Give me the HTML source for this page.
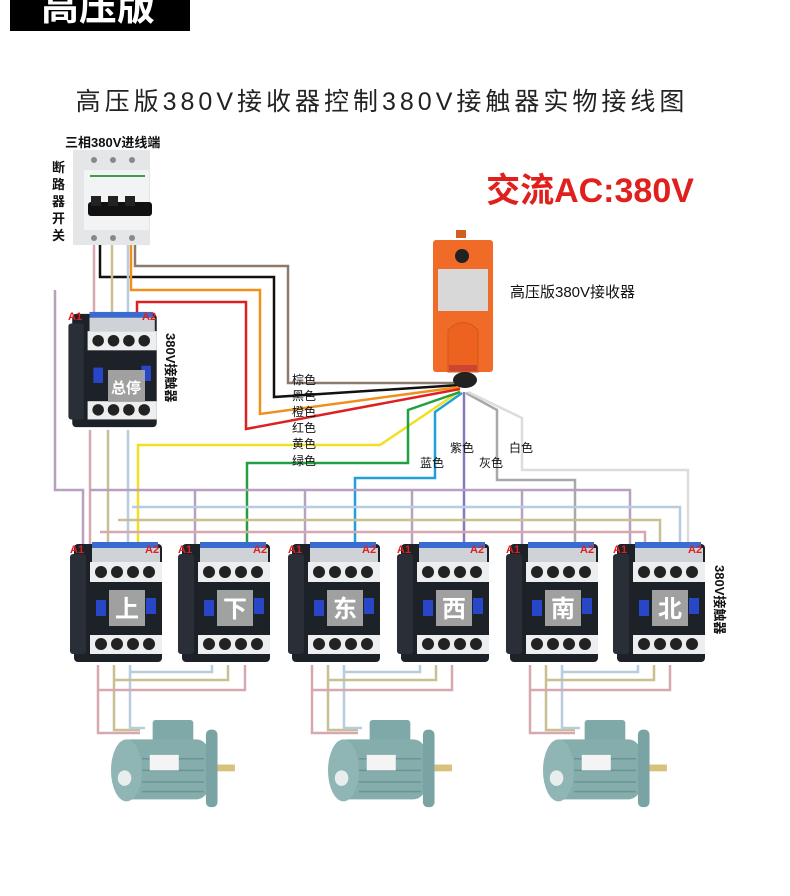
<!DOCTYPE html>
<html><head><meta charset="utf-8"><style>
html,body{margin:0;padding:0;background:#fff}
svg{display:block}
text{font-family:"Liberation Sans","Noto Sans CJK SC",sans-serif}
</style></head><body>
<svg width="790" height="896" viewBox="0 0 790 896" xmlns="http://www.w3.org/2000/svg">
<defs>
<symbol id="ct" viewBox="0 0 95 125" width="95" height="125">
  <rect x="4" y="4" width="88" height="118" rx="4" fill="#1d2128"/>
  <rect x="0" y="14" width="16" height="100" rx="3" fill="#2a2e36"/>
  <rect x="22" y="2" width="66" height="6" fill="#3a6bd0"/>
  <rect x="22" y="8" width="68" height="14" fill="#cfd3d8"/>
  <rect x="20" y="22" width="72" height="20" fill="#eceef0"/>
  <g fill="#222"><circle cx="31" cy="32" r="6"/><circle cx="47" cy="32" r="6"/><circle cx="63" cy="32" r="6"/><circle cx="79" cy="32" r="6"/></g>
  <rect x="26" y="60" width="10" height="16" fill="#2747c8"/>
  <rect x="76" y="58" width="10" height="16" fill="#2747c8"/>
  <rect x="20" y="95" width="72" height="19" fill="#eceef0"/>
  <g fill="#222"><circle cx="31" cy="104" r="6"/><circle cx="47" cy="104" r="6"/><circle cx="63" cy="104" r="6"/><circle cx="79" cy="104" r="6"/></g>
</symbol>
<symbol id="mt" viewBox="0 0 130 95" width="130" height="95">
  <rect x="45" y="0" width="42" height="22" rx="3" fill="#7fa9a8"/>
  <rect x="10" y="20" width="92" height="62" rx="12" fill="#84adac"/>
  <ellipse cx="18" cy="52" rx="16" ry="32" fill="#8fb6b5"/>
  <ellipse cx="16" cy="60" rx="7" ry="8" fill="#e8eeee"/>
  <g stroke="#6a9594" stroke-width="1.5"><line x1="34" y1="40" x2="98" y2="40"/><line x1="34" y1="52" x2="98" y2="52"/><line x1="34" y1="64" x2="98" y2="64"/><line x1="34" y1="74" x2="98" y2="74"/></g>
  <rect x="42" y="36" width="30" height="16" fill="#f4f4f4"/>
  <rect x="100" y="10" width="12" height="80" rx="5" fill="#7aa4a3"/>
  <rect x="112" y="46" width="18" height="7" fill="#d6c27a"/>
</symbol>
</defs>

<rect x="10" y="0" width="180" height="31" fill="#000"/>
<text x="98" y="20" font-size="38" font-weight="bold" fill="#fff" text-anchor="middle">高压版</text>

<text x="382" y="110" font-size="25" fill="#222" text-anchor="middle" letter-spacing="4">高压版380V接收器控制380V接触器实物接线图</text>

<text x="65" y="147" font-size="13" font-weight="bold" fill="#111">三相380V进线端</text>
<g font-size="13" font-weight="bold" fill="#111"><text x="52" y="172">断</text><text x="52" y="189">路</text><text x="52" y="206">器</text><text x="52" y="223">开</text><text x="52" y="240">关</text></g>

<text x="590" y="202" font-size="34" font-weight="bold" fill="#e0201c" text-anchor="middle">交流AC:380V</text>

<g fill="none" stroke-width="2.5">
<polyline points="135,245 135,266 288,266 288,383 460,383" stroke="#8c7a6e"/>
<polyline points="100,245 100,277 274,277 274,397 460,385" stroke="#111"/>
<polyline points="131,245 131,290 260,290 260,414 460,387" stroke="#f0901c"/>
<polyline points="137,318 137,302 246,302 246,429 460,389" stroke="#e02020"/>
<polyline points="138,545 138,445 380,445 460,391" stroke="#f0e020" />
<polyline points="247,545 247,463 408,463 408,410 460,392" stroke="#20a040"/>
<polyline points="355,545 355,478 435,478 435,412 462,393" stroke="#20a0d8"/>
<polyline points="464,545 464,392" stroke="#8878c0"/>
<polyline points="575,545 575,480 497,480 497,410 466,393" stroke="#a8a8a8"/>
<polyline points="688,545 688,470 522,470 522,418 468,392" stroke="#dcdcdc"/>
<polyline points="94,245 94,320" stroke="#d8a8b0"/>
<polyline points="112,245 112,320" stroke="#c8c090"/>
<polyline points="128,245 128,320" stroke="#b8cce0"/>
<polyline points="55,290 55,490 83,490 83,545" stroke="#b8a0c0"/>
<polyline points="90,430 90,545" stroke="#d8a8b0"/>
<polyline points="108,430 108,545" stroke="#c8c090"/>
<polyline points="128,430 128,545" stroke="#b8cce0"/>
<polyline points="90,490 630,490 630,545" stroke="#b8a0c0"/>
<polyline points="195,490 195,545" stroke="#b8a0c0"/>
<polyline points="305,490 305,545" stroke="#b8a0c0"/>
<polyline points="412,490 412,545" stroke="#b8a0c0"/>
<polyline points="522,490 522,545" stroke="#b8a0c0"/>
<polyline points="132,507 680,507 680,545" stroke="#b8cce0"/>
<polyline points="118,520 660,520 660,545" stroke="#c8c090"/>
<polyline points="100,532 645,532 645,545" stroke="#d8a8b0"/>
</g>

<rect x="73" y="150" width="77" height="95" fill="#e4e6e8"/>
<rect x="84" y="170" width="65" height="60" fill="#f2f3f4"/>
<g fill="#888"><circle cx="94" cy="160" r="3"/><circle cx="113" cy="160" r="3"/><circle cx="132" cy="160" r="3"/><circle cx="94" cy="238" r="3"/><circle cx="113" cy="238" r="3"/><circle cx="132" cy="238" r="3"/></g>
<rect x="90" y="175" width="55" height="2" fill="#3aa050"/>
<rect x="88" y="202" width="64" height="14" rx="3" fill="#111"/>
<g fill="#222"><rect x="91" y="196" width="10" height="10"/><rect x="108" y="196" width="10" height="10"/><rect x="125" y="196" width="10" height="10"/></g>

<rect x="456" y="230" width="10" height="8" fill="#d06020"/>
<rect x="433" y="240" width="60" height="132" rx="3" fill="#f06a28"/>
<circle cx="462" cy="256" r="7" fill="#222"/>
<rect x="438" y="269" width="50" height="42" fill="#d8d8d8"/>
<path d="M448 372 V330 Q463 315 478 330 V372 Z" fill="#ee6220" stroke="#d05818"/>
<rect x="449" y="365" width="28" height="6" fill="#c43" />
<ellipse cx="465" cy="380" rx="12" ry="8" fill="#222"/>
<text x="510" y="297" font-size="15" fill="#111">高压版380V接收器</text>

<g font-size="12" fill="#111">
<text x="292" y="384">棕色</text><text x="292" y="400">黑色</text><text x="292" y="416">橙色</text><text x="292" y="432">红色</text><text x="292" y="448">黄色</text><text x="292" y="465">绿色</text>
<text x="450" y="452">紫色</text><text x="420" y="467">蓝色</text><text x="479" y="467">灰色</text><text x="509" y="452">白色</text>
</g>

<use href="#ct" x="68" y="310" width="92" height="120"/>
<rect x="108" y="370" width="37" height="32" fill="#a8a8a8" opacity="0.95"/>
<text x="126" y="393" font-size="15" font-weight="bold" fill="#fff" text-anchor="middle">总停</text>
<text x="68" y="320" font-size="11" font-weight="bold" fill="#e02020">A1</text>
<text x="142" y="320" font-size="11" font-weight="bold" fill="#e02020">A2</text>
<g font-size="13" font-weight="bold" fill="#111" transform="translate(166,333) rotate(90)"><text x="0" y="0">380V接触器</text></g>

<g>
<use href="#ct" x="70" y="540"/><use href="#ct" x="178" y="540"/><use href="#ct" x="288" y="540"/><use href="#ct" x="397" y="540"/><use href="#ct" x="506" y="540"/><use href="#ct" x="613" y="540"/>
</g>
<g fill="#a8a8a8" opacity="0.95">
<rect x="109" y="590" width="36" height="36"/><rect x="217" y="590" width="36" height="36"/><rect x="327" y="590" width="36" height="36"/><rect x="436" y="590" width="36" height="36"/><rect x="545" y="590" width="36" height="36"/><rect x="652" y="590" width="36" height="36"/>
</g>
<g font-size="24" font-weight="bold" fill="#fff" text-anchor="middle">
<text x="127" y="617">上</text><text x="235" y="617">下</text><text x="345" y="617">东</text><text x="454" y="617">西</text><text x="563" y="617">南</text><text x="670" y="617">北</text>
</g>
<g font-size="11" font-weight="bold" fill="#e02020">
<text x="70" y="553">A1</text><text x="145" y="553">A2</text>
<text x="178" y="553">A1</text><text x="253" y="553">A2</text>
<text x="288" y="553">A1</text><text x="362" y="553">A2</text>
<text x="397" y="553">A1</text><text x="470" y="553">A2</text>
<text x="506" y="553">A1</text><text x="580" y="553">A2</text>
<text x="613" y="553">A1</text><text x="688" y="553">A2</text>
</g>
<g font-size="13" font-weight="bold" fill="#111" transform="translate(715,565) rotate(90)"><text x="0" y="0">380V接触器</text></g>

<g fill="none" stroke-width="2.5">
<polyline points="98,665 98,733 140,733" stroke="#d8a8b0"/>
<polyline points="114,665 114,730 140,730" stroke="#c8c090"/>
<polyline points="130,665 130,728 145,728" stroke="#b8cce0"/>
<polyline points="98,690 245,690 245,665" stroke="#d8a8b0"/>
<polyline points="114,680 228,680 228,665" stroke="#c8c090"/>
<polyline points="130,672 212,672 212,665" stroke="#b8cce0"/>
<polyline points="312,665 312,733 358,733" stroke="#d8a8b0"/>
<polyline points="328,665 328,730 358,730" stroke="#c8c090"/>
<polyline points="344,665 344,728 362,728" stroke="#b8cce0"/>
<polyline points="312,690 452,690 452,665" stroke="#d8a8b0"/>
<polyline points="328,680 436,680 436,665" stroke="#c8c090"/>
<polyline points="344,672 420,672 420,665" stroke="#b8cce0"/>
<polyline points="530,665 530,733 575,733" stroke="#d8a8b0"/>
<polyline points="546,665 546,730 575,730" stroke="#c8c090"/>
<polyline points="562,665 562,728 580,728" stroke="#b8cce0"/>
<polyline points="530,690 670,690 670,665" stroke="#d8a8b0"/>
<polyline points="546,680 654,680 654,665" stroke="#c8c090"/>
<polyline points="562,672 638,672 638,665" stroke="#b8cce0"/>
</g>

<use href="#mt" x="108" y="720" width="128" height="92"/>
<use href="#mt" x="325" y="720" width="128" height="92"/>
<use href="#mt" x="540" y="720" width="128" height="92"/>
</svg>
</body></html>
